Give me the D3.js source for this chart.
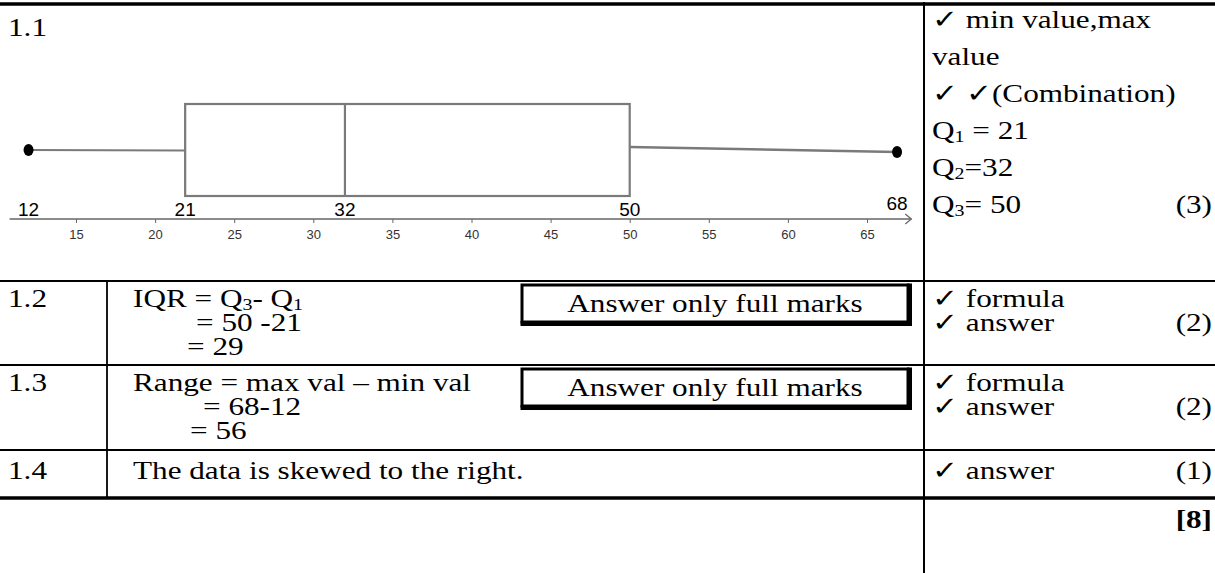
<!DOCTYPE html>
<html><head><meta charset="utf-8">
<script src="https://cdn.jsdelivr.net/npm/d3@7"></script>
<style>
html,body{margin:0;padding:0;background:#fff;}
svg{display:block;}
.serif{font-family:"Liberation Serif","Times New Roman",serif;fill:#000;}
.sans{font-family:"Liberation Sans",Arial,sans-serif;}
</style></head><body>
<svg id="chart" width="1215" height="573"></svg>
<script>
// ---- Data (box plot five-number summary, as drawn on the number line) ----
const summaryNames  = ["min", "Q1", "median", "Q3", "max"];
const summaryValues = [12, 21.9, 32, 50, 66.9];
const summaryLabels = ["12", "21", "32", "50", "68"];
const axisTicks     = [15, 20, 25, 30, 35, 40, 45, 50, 55, 60, 65];
const axisExtent    = [10.8, 67.8];

// ---- Memo text ----
const questionIds = ["1.1", "1.2", "1.3", "1.4"];
const markTotals  = ["(3)", "(2)", "(2)", "(1)"];
const grandTotal  = "[8]";
const q11Marks = [
  [{t:"\u2713 min value,max"}],
  [{t:"value"}],
  [{t:"\u2713 \u2713(Combination)"}],
  [{t:"Q"},{t:"1",sub:true},{t:" = 21"}],
  [{t:"Q"},{t:"2",sub:true},{t:"=32"}],
  [{t:"Q"},{t:"3",sub:true},{t:"= 50"}]
];
const q12Work = [
  [{t:"IQR = Q"},{t:"3",sub:true},{t:"- Q"},{t:"1",sub:true}],
  [{t:"= 50 -21"}],
  [{t:"= 29"}]
];
const q13Work = [
  [{t:"Range = max val \u2013 min val"}],
  [{t:"= 68-12"}],
  [{t:"= 56"}]
];
const q14Work = [[{t:"The data is skewed to the right."}]];
const formulaMarks = ["\u2713 formula", "\u2713 answer"];
const answerOnlyNote = "Answer only full marks";

// ---- Layout ----
const svg = d3.select("#chart");
const W = 1215, H = 573;
const colSep = 924, col1Sep = 107;
const fs = 26, sx = 1.2;

function line(x1,y1,x2,y2,w,c){
  svg.append("line").attr("x1",x1).attr("y1",y1).attr("x2",x2).attr("y2",y2)
    .attr("stroke",c||"#000").attr("stroke-width",w||1.5);
}
function richText(x, y, parts, opts){
  opts = opts||{};
  const size = opts.size||fs;
  const t = svg.append("text").attr("class","serif")
    .attr("transform",`translate(${x},${y}) scale(${sx},1)`)
    .attr("font-size", size);
  if (opts.anchor) t.attr("text-anchor", opts.anchor);
  if (opts.bold) t.attr("font-weight","bold");
  let prevSub = false;
  parts.forEach(p=>{
    const s = t.append("tspan").text(p.t);
    if (p.sub) { s.attr("font-size", size*0.64).attr("dy", 3); }
    else if (prevSub) { s.attr("dy", -3); }
    prevSub = !!p.sub;
  });
  return t;
}

// Table rules
line(0,4,W,4,3.5);
line(colSep,2,colSep,H,2);
[281, 365, 450].forEach(y=>line(0,y,W,y,1.8));
line(0,498,W,498,3.5);
line(col1Sep,281,col1Sep,498,1.8);

// ---- Box plot ----
const x = d3.scaleLinear().domain([15,65]).range([76,867]);
const axisY = 219, boxTop = 104, boxBot = 196, whiskY = 150;
const grey = "#7a7a7a";

const axisG = svg.append("g").attr("transform",`translate(0,${axisY})`)
  .call(d3.axisBottom(x).tickValues(axisTicks).tickSize(4).tickSizeOuter(0).tickPadding(4));
axisG.select(".domain").remove();
axisG.selectAll(".tick line").attr("stroke","#666");
axisG.selectAll(".tick text").attr("font-family","'Liberation Sans',Arial,sans-serif")
  .attr("font-size",13).attr("fill","#333").attr("dy","0.9em");

// axis line with arrow
const ax0 = x(axisExtent[0]), ax1 = x(axisExtent[1]);
line(ax0,axisY,ax1,axisY,1.6,"#666");
svg.append("path").attr("d",`M${ax1-6},${axisY-5}L${ax1},${axisY}L${ax1-6},${axisY+5}`)
  .attr("fill","none").attr("stroke","#666").attr("stroke-width",1.3);

const [vMin,vQ1,vMed,vQ3,vMax] = summaryValues;
// whiskers
line(x(vMin),whiskY,x(vQ1),whiskY+0.5,2.2,grey);
line(x(vQ3),whiskY-3,x(vMax),whiskY+2,2.6,grey);
// box
svg.append("rect").attr("x",x(vQ1)).attr("y",boxTop).attr("width",x(vQ3)-x(vQ1))
  .attr("height",boxBot-boxTop).attr("fill","none").attr("stroke",grey).attr("stroke-width",2.2);
line(x(vMed),boxTop,x(vMed),boxBot,2.2,grey);
// end points
[vMin,vMax].forEach((v,i)=>{
  svg.append("ellipse").attr("cx",x(v)).attr("cy",i? whiskY+2: whiskY)
    .attr("rx",5).attr("ry",6).attr("fill","#000");
});
// value labels
summaryValues.forEach((v,i)=>{
  svg.append("text").attr("class","sans").attr("x",x(v)).attr("y", i===4?210:216)
    .attr("text-anchor","middle").attr("font-size",19)
    .attr("fill","#000").text(summaryLabels[i]);
});

// ---- Text ----
const idY = [36, 307, 391, 479];
questionIds.forEach((q,i)=>richText(8, idY[i], [{t:q}]));

// 1.1 marks column
q11Marks.forEach((ln,i)=>richText(932, 28 + i*37, ln));
richText(1212, 28+5*37, [{t:markTotals[0]}], {anchor:"end"});

// 1.2
q12Work.forEach((ln,i)=>richText([133,196,187][i], 307 + i*24, ln));
// 1.3
q13Work.forEach((ln,i)=>richText([133,203,190][i], 391 + i*24, ln));
// 1.4
richText(133, 479, q14Work[0]);

// answer-only boxes
[285, 369].forEach((by)=>{
  const bx=522, bw=386, bh=37;
  svg.append("rect").attr("x",bx).attr("y",by).attr("width",bw).attr("height",bh)
    .attr("fill","none").attr("stroke","#000").attr("stroke-width",3);
  line(bx+bw+1.5,by-1.5,bx+bw+1.5,by+bh+3,5);
  line(bx-1.5,by+bh+1.5,bx+bw+4,by+bh+1.5,5);
  richText(bx+bw/2, by+27, [{t:answerOnlyNote}], {anchor:"middle"});
});

// right column marks rows 2,3,4
[[307,331],[391,415]].forEach((ys,i)=>{
  richText(932, ys[0], [{t:formulaMarks[0]}]);
  richText(932, ys[1], [{t:formulaMarks[1]}]);
  richText(1212, ys[1], [{t:markTotals[i+1]}], {anchor:"end"});
});
richText(932, 479, [{t:formulaMarks[1]}]);
richText(1212, 479, [{t:markTotals[3]}], {anchor:"end"});
richText(1212, 528, [{t:grandTotal}], {anchor:"end", bold:true});
</script>
</body></html>
